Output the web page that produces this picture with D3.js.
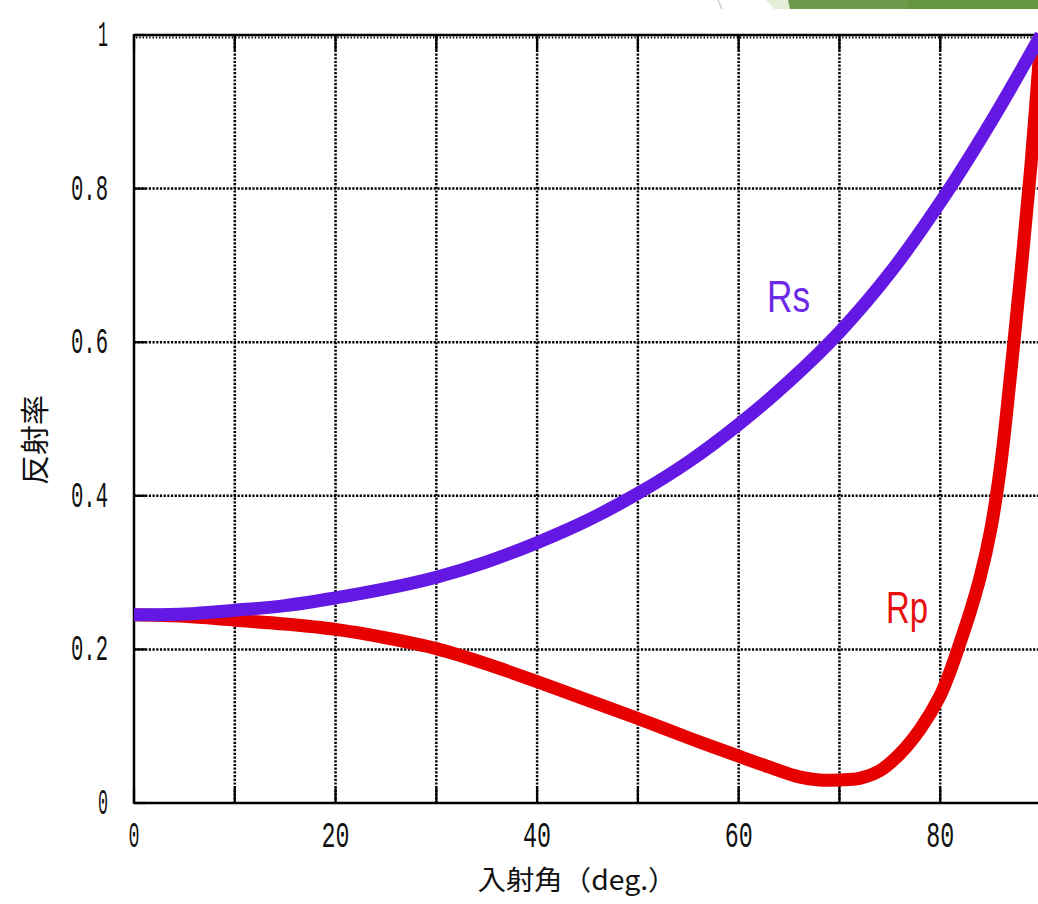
<!DOCTYPE html>
<html><head><meta charset="utf-8">
<script src="https://cdn.jsdelivr.net/npm/d3@7/dist/d3.min.js"></script>
<style>html,body{margin:0;padding:0;background:#fff;overflow:hidden}</style>
</head><body>
<script>
// Data
const anglesRs = [0,5,10,15,20,25,30,35,40,45,50,55,60,65,70,75,80,85,90];
const valuesRs = [0.245,0.246,0.251,0.257,0.267,0.279,0.294,0.314,0.339,0.368,0.403,0.444,0.493,0.549,0.613,0.690,0.782,0.886,1.0];
const anglesRp = [0,5,10,15,20,25,30,35,40,45,50,55,60,63,66,68,70,72,74,76,78,80,81,82,83,84,85,86,87,88,89,90];
const valuesRp = [0.245,0.243,0.238,0.233,0.226,0.215,0.201,0.181,0.158,0.134,0.110,0.085,0.061,0.047,0.034,0.030,0.030,0.032,0.042,0.064,0.096,0.140,0.172,0.210,0.250,0.296,0.355,0.440,0.560,0.690,0.830,1.0];
const xTicks = [0,10,20,30,40,50,60,70,80,90];
const xTickLabels = ["0","","20","","40","","60","","80",""];
const yTicks = [0,0.2,0.4,0.6,0.8,1];
const yTickLabels = ["0","0.2","0.4","0.6","0.8","1"];
const seriesNames = ["Rs","Rp"];

const W = 1038, H = 904;
const svg = d3.select("body").append("svg").attr("width", W).attr("height", H);

const x = d3.scaleLinear().domain([0,90]).range([134,1041]);
const y = d3.scaleLinear().domain([0,1]).range([803,35]);

// decoration at top right
svg.append("line").attr("x1",718).attr("y1",0).attr("x2",722).attr("y2",9).attr("stroke","#cfcfcf").attr("stroke-width",1.5);
svg.append("polygon").attr("points","766,0 789,0 791,9 774,9").attr("fill","#e4edd8");
svg.append("polygon").attr("points","788,0 910,0 910,9 790,9").attr("fill","#6c9a4a");
svg.append("polygon").attr("points","908,0 1038,0 1038,9 908,9").attr("fill","#64963f");

// grid
const g = svg.append("g");
g.selectAll(".vg").data(xTicks.filter(d => d>0 && d<90)).enter().append("line")
  .attr("x1", d=>x(d)).attr("x2", d=>x(d)).attr("y1", y(1)).attr("y2", y(0))
  .attr("stroke","#000").attr("stroke-width",2.5).attr("stroke-dasharray","2.2,1.5");
g.selectAll(".hg").data(yTicks.filter(d => d>0 && d<1)).enter().append("line")
  .attr("x1", x(0)).attr("x2", x(90)).attr("y1", d=>y(d)).attr("y2", d=>y(d))
  .attr("stroke","#000").attr("stroke-width",2.5).attr("stroke-dasharray","2.2,1.5");

// ticks
g.selectAll(".bt").data(xTicks).enter().append("line")
  .attr("x1", d=>x(d)).attr("x2", d=>x(d)).attr("y1", y(0)).attr("y2", y(0)-15)
  .attr("stroke","#000").attr("stroke-width",2.2);
g.selectAll(".tt").data(xTicks).enter().append("line")
  .attr("x1", d=>x(d)).attr("x2", d=>x(d)).attr("y1", y(1)).attr("y2", y(1)+15)
  .attr("stroke","#000").attr("stroke-width",2.2);
g.selectAll(".lt").data(yTicks).enter().append("line")
  .attr("x1", x(0)).attr("x2", x(0)+12).attr("y1", d=>y(d)).attr("y2", d=>y(d))
  .attr("stroke","#000").attr("stroke-width",2.2);

// frame
svg.append("line").attr("x1",x(0)).attr("x2",x(90)).attr("y1",y(1)).attr("y2",y(1)).attr("stroke","#000").attr("stroke-width",2.5);
svg.append("line").attr("x1",x(0)+2).attr("x2",x(90)).attr("y1",y(1)+2.5).attr("y2",y(1)+2.5).attr("stroke","#000").attr("stroke-width",2).attr("stroke-dasharray","1.4,1.9");
svg.append("line").attr("x1",x(0)).attr("x2",x(90)).attr("y1",y(0)).attr("y2",y(0)).attr("stroke","#000").attr("stroke-width",2.5);
svg.append("line").attr("x1",x(0)).attr("x2",x(0)).attr("y1",y(1)-1).attr("y2",y(0)+1).attr("stroke","#000").attr("stroke-width",2.5);
svg.append("line").attr("x1",x(90)).attr("x2",x(90)).attr("y1",y(1)).attr("y2",y(0)).attr("stroke","#000").attr("stroke-width",2.5);

// curves
const line = d3.line().x(d=>x(d[0])).y(d=>y(d[1])).curve(d3.curveCatmullRom.alpha(0.5));
const rp = anglesRp.map((a,i)=>[a, valuesRp[i]]);
const rs = anglesRs.map((a,i)=>[a, valuesRs[i]]);
svg.append("path").attr("d", line(rp)).attr("fill","none").attr("stroke","#e60000").attr("stroke-width",13).attr("stroke-linejoin","round").attr("stroke-linecap","butt");
svg.append("path").attr("d", line(rs)).attr("fill","none").attr("stroke","#6418e4").attr("stroke-width",13).attr("stroke-linejoin","round").attr("stroke-linecap","butt");

// tick labels
const tf = "'Liberation Mono', 'DejaVu Sans Mono', monospace";
svg.selectAll(".xl").data(xTicks.map((d,i)=>[d,xTickLabels[i]]).filter(d=>d[1]!=="")).enter().append("text")
  .attr("x", d=>x(d[0])).attr("y", 847).attr("text-anchor","middle")
  .attr("font-family", tf).attr("font-size", 36).attr("fill","#111")
  .attr("textLength", d=>d[1].length===1?11:28).attr("lengthAdjust","spacingAndGlyphs")
  .text(d=>d[1]);
svg.selectAll(".yl").data(yTicks.map((d,i)=>[d,yTickLabels[i]])).enter().append("text")
  .attr("x", 108).attr("y", d=>y(d[0])+11).attr("text-anchor","end")
  .attr("font-family", tf).attr("font-size", 36).attr("fill","#111")
  .attr("textLength", d=>d[1].length===1?10:37).attr("lengthAdjust","spacingAndGlyphs")
  .text(d=>d[1]);

// axis titles
const cf = "'Noto Sans CJK JP', sans-serif";
svg.append("text").attr("transform","translate(33,440) rotate(-90)")
  .attr("text-anchor","middle").attr("dominant-baseline","central")
  .attr("font-family", cf).attr("font-size", 29).attr("fill","#111")
  .attr("textLength", 90).attr("lengthAdjust","spacingAndGlyphs")
  .text("反射率");
svg.append("text").attr("x", 577).attr("y", 878)
  .attr("text-anchor","middle").attr("dominant-baseline","central")
  .attr("font-family", cf).attr("font-size", 27).attr("fill","#111")
  .attr("textLength", 199).attr("lengthAdjust","spacingAndGlyphs")
  .text("入射角（deg.）");

// series labels
svg.append("text").attr("x", 767).attr("y", 312).attr("font-family","'Liberation Sans', Arial, sans-serif")
  .attr("font-size", 44).attr("fill","#6a2ae8").attr("textLength", 43).attr("lengthAdjust","spacingAndGlyphs")
  .text(seriesNames[0]);
svg.append("text").attr("x", 886).attr("y", 623).attr("font-family","'Liberation Sans', Arial, sans-serif")
  .attr("font-size", 44).attr("fill","#e80f0f").attr("textLength", 42).attr("lengthAdjust","spacingAndGlyphs")
  .text(seriesNames[1]);
</script>
</body></html>
